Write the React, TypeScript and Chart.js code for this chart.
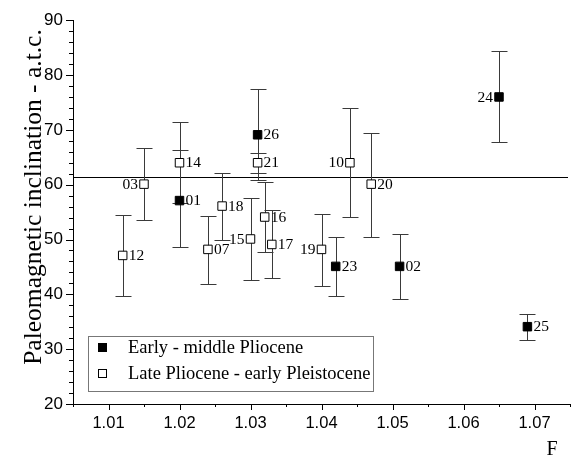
import React, { useEffect, useRef } from "react";
import { Chart, registerables } from "chart.js";

Chart.register(...registerables);

// ---- data ----
const earlyIds = ["01", "02", "23", "26", "24", "25"];
const earlyF = [1.020, 1.051, 1.042, 1.031, 1.065, 1.069];
const earlyInc = [57.1, 45.1, 45.1, 69.1, 76.0, 34.1];
const earlyLow = [48.6, 39.1, 39.7, 60.8, 67.7, 31.7];
const earlyHigh = [66.3, 51.0, 50.4, 77.4, 84.3, 36.5];
const earlyLabelSide = ["R", "R", "R", "R", "L", "R"];

const lateIds = ["12", "03", "14", "07", "18", "15", "16", "17", "21", "19", "10", "20"];
const lateF = [1.012, 1.015, 1.020, 1.024, 1.026, 1.030, 1.032, 1.033, 1.031, 1.040, 1.044, 1.047];
const lateInc = [47.1, 60.1, 64.0, 48.2, 56.1, 50.1, 54.1, 49.1, 64.0, 48.2, 64.0, 60.1];
const lateLow = [39.7, 53.5, 56.7, 41.8, 50.0, 42.7, 47.7, 42.9, 62.2, 41.5, 54.1, 50.4];
const lateHigh = [54.5, 66.6, 71.4, 54.3, 62.2, 57.5, 60.5, 55.4, 65.8, 54.7, 74.0, 69.5];
const lateLabelSide = ["R", "L", "R", "R", "R", "L", "R", "R", "R", "L", "L", "R"];

const referenceInclination = 61.4;

const xTickLabels = ["1.01", "1.02", "1.03", "1.04", "1.05", "1.06", "1.07"];
const yTickLabels = ["20", "30", "40", "50", "60", "70", "80", "90"];

const legendLabels = ["Early - middle Pliocene", "Late Pliocene - early Pleistocene"];
const yTitle = "Paleomagnetic inclination - a.t.c.";
const xTitle = "F";

const SERIF = "'Liberation Serif', 'Times New Roman', serif";
const SANS = "'Liberation Sans', Arial, sans-serif";

const decorPlugin = {
  id: "decor",
  beforeDatasetsDraw(chart: any) {
    const { ctx, chartArea, scales } = chart;
    const xs = scales.x;
    const ys = scales.y;
    ctx.save();
    // reference line
    const yr = Math.round(ys.getPixelForValue(referenceInclination)) + 0.5;
    ctx.strokeStyle = "#000";
    ctx.lineWidth = 1;
    ctx.beginPath();
    ctx.moveTo(chartArea.left, yr);
    ctx.lineTo(chartArea.right - 2, yr);
    ctx.stroke();

    // error bars
    const drawBars = (F: number[], lo: number[], hi: number[]) => {
      ctx.strokeStyle = "#3a3a3a";
      ctx.lineWidth = 1;
      for (let i = 0; i < F.length; i++) {
        const x = Math.round(xs.getPixelForValue(F[i])) + 0.5;
        const y1 = Math.round(ys.getPixelForValue(lo[i])) + 0.5;
        const y2 = Math.round(ys.getPixelForValue(hi[i])) + 0.5;
        ctx.beginPath();
        ctx.moveTo(x, y1);
        ctx.lineTo(x, y2);
        ctx.moveTo(x - 8, y1);
        ctx.lineTo(x + 8, y1);
        ctx.moveTo(x - 8, y2);
        ctx.lineTo(x + 8, y2);
        ctx.stroke();
      }
    };
    drawBars(lateF, lateLow, lateHigh);
    drawBars(earlyF, earlyLow, earlyHigh);

    // minor/major ticks
    ctx.strokeStyle = "#000";
    const bottom = chartArea.bottom;
    for (let i = 1005; i <= 1075; i += 5) {
      const v = i / 1000;
      const x = Math.round(xs.getPixelForValue(v)) + 0.5;
      const len = i % 10 === 0 ? 6 : 3;
      ctx.beginPath();
      ctx.moveTo(x, bottom);
      ctx.lineTo(x, bottom + len);
      ctx.stroke();
    }
    const left = chartArea.left;
    for (let v = 20; v <= 90; v += 2) {
      const y = Math.round(ys.getPixelForValue(v)) + 0.5;
      const len = v % 10 === 0 ? 7 : 4;
      ctx.beginPath();
      ctx.moveTo(left, y);
      ctx.lineTo(left - len, y);
      ctx.stroke();
    }
    ctx.restore();
  },
  afterDatasetsDraw(chart: any) {
    const { ctx, scales } = chart;
    const xs = scales.x;
    const ys = scales.y;
    ctx.save();
    ctx.fillStyle = "#000";
    ctx.font = `15.5px ${SERIF}`;
    ctx.textBaseline = "middle";
    const drawLabels = (ids: string[], F: number[], I: number[], side: string[]) => {
      for (let i = 0; i < ids.length; i++) {
        const x = xs.getPixelForValue(F[i]);
        const y = ys.getPixelForValue(I[i]) + 0.5;
        if (side[i] === "L") {
          ctx.textAlign = "right";
          ctx.fillText(ids[i], x - 6, y);
        } else {
          ctx.textAlign = "left";
          ctx.fillText(ids[i], x + 6, y);
        }
      }
    };
    drawLabels(lateIds, lateF, lateInc, lateLabelSide);
    drawLabels(earlyIds, earlyF, earlyInc, earlyLabelSide);

    // legend box
    const bx = 88.5, by = 336.5, bw = 285, bh = 55;
    ctx.strokeStyle = "#777";
    ctx.lineWidth = 1;
    ctx.strokeRect(bx, by, bw, bh);
    ctx.fillStyle = "#000";
    ctx.fillRect(98, 343, 9, 9);
    ctx.fillStyle = "#fff";
    ctx.strokeStyle = "#000";
    ctx.fillRect(98, 369, 8, 8);
    ctx.strokeRect(98.5, 369.5, 8, 8);
    ctx.fillStyle = "#000";
    ctx.font = `18.5px ${SERIF}`;
    ctx.textAlign = "left";
    ctx.textBaseline = "middle";
    ctx.fillText(legendLabels[0], 128, 348);
    ctx.fillText(legendLabels[1], 128, 374);

    // axis titles
    ctx.font = `20px ${SERIF}`;
    ctx.textAlign = "center";
    ctx.textBaseline = "alphabetic";
    ctx.fillText(xTitle, 552, 455);

    ctx.translate(34, 197);
    ctx.rotate(-Math.PI / 2);
    ctx.font = `25.5px ${SERIF}`;
    ctx.textBaseline = "middle";
    ctx.fillText(yTitle, 0, 0);
    ctx.restore();
  },
};

export default function App() {
  const ref = useRef<HTMLCanvasElement | null>(null);
  useEffect(() => {
    document.body.style.margin = "0";
    const canvas = ref.current!;
    const chart = new Chart(canvas, {
      type: "scatter",
      data: {
        datasets: [
          {
            label: legendLabels[1],
            data: lateF.map((f, i) => ({ x: f, y: lateInc[i] })),
            pointStyle: "rect",
            pointRadius: 6,
            pointHoverRadius: 6,
            backgroundColor: "#fff",
            borderColor: "#000",
            borderWidth: 1,
          },
          {
            label: legendLabels[0],
            data: earlyF.map((f, i) => ({ x: f, y: earlyInc[i] })),
            pointStyle: "rect",
            pointRadius: 6,
            pointHoverRadius: 6,
            backgroundColor: "#000",
            borderColor: "#000",
            borderWidth: 1,
          },
        ],
      },
      options: {
        animation: false,
        responsive: false,
        events: [],
        layout: { padding: { left: 0, right: 5, top: 17, bottom: 0 } },
        plugins: { legend: { display: false }, tooltip: { enabled: false } },
        scales: {
          x: {
            type: "linear",
            min: 1.005,
            max: 1.075,
            afterFit: (s: any) => {
              s.height = 52;
            },
            grid: { display: true, drawOnChartArea: false, drawTicks: false },
            border: { display: true, color: "#000", width: 1 },
            ticks: {
              stepSize: 0.005,
              padding: 10,
              color: "#000",
              font: { family: SANS, size: 16.5 },
              maxRotation: 0,
              autoSkip: false,
              callback: (v: any) => {
                const k = Math.round(Number(v) * 1000);
                if (k % 10 !== 0) return "";
                const lbl = (k / 1000).toFixed(2);
                return xTickLabels.includes(lbl) ? lbl : "";
              },
            },
          },
          y: {
            type: "linear",
            min: 20,
            max: 90,
            afterFit: (s: any) => {
              s.width = 73;
            },
            grid: { display: true, drawOnChartArea: false, drawTicks: false },
            border: { display: true, color: "#000", width: 1 },
            ticks: {
              stepSize: 10,
              padding: 10,
              color: "#000",
              font: { family: SANS, size: 17 },
              callback: (v: any) => {
                const l = String(Math.round(Number(v)));
                return yTickLabels.includes(l) ? l : "";
              },
            },
          },
        },
      },
      plugins: [decorPlugin],
    });
    return () => chart.destroy();
  }, []);
  return (
    <div style={{ position: "absolute", left: 0, top: 0, width: 580, height: 456, background: "#fff" }}>
      <canvas ref={ref} width={580} height={456} />
    </div>
  );
}
